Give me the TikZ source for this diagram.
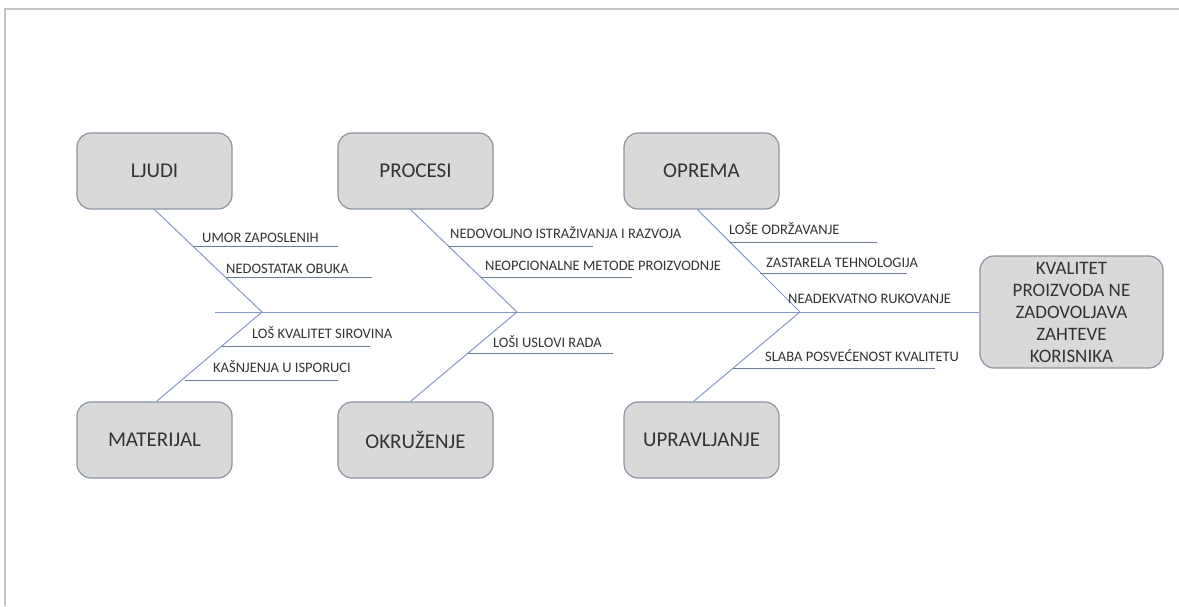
\documentclass[tikz,border=0pt]{standalone}
\usepackage{fontspec}
\setmainfont{Carlito}
\usetikzlibrary{calc}
\definecolor{boxfill}{HTML}{D9D9DA}
\definecolor{boxline}{HTML}{8A94A3}
\definecolor{bone}{HTML}{8499C4}
\definecolor{rule}{HTML}{6E7C96}
\definecolor{ink}{HTML}{333333}
\definecolor{pageframe}{HTML}{C4C4C4}
\begin{document}
\begin{tikzpicture}[x=1pt,y=-1pt,
  cat/.style={draw=boxline, line width=1.2pt, fill=boxfill, rounded corners=14pt,
    minimum width=155pt, minimum height=76pt, inner sep=0pt,
    font=\fontsize{21}{24}\selectfont, text=ink},
  cause/.style={anchor=base west, inner sep=0pt, font=\fontsize{14.5}{16}\selectfont, text=ink},
  bonestyle/.style={draw=bone, line width=1pt},
  underl/.style={draw=rule, line width=1pt}]
\useasboundingbox (0,0) rectangle (1179,606);

% page frame (top and left edges)
\draw[pageframe, line width=2.5pt] (5,606) -- (5,9) -- (1179,9);

% category boxes
\node[cat] (ljudi)       at (154.5,171) {LJUDI};
\node[cat] (procesi)     at (415.5,171) {PROCESI};
\node[cat] (oprema)      at (701.5,171) {OPREMA};
\node[cat] (materijal)   at (154.5,440) {MATERIJAL};
\node[cat] (okruzenje)   at (415.5,440) {OKRUŽENJE};
\node[cat] (upravljanje) at (701.5,440) {UPRAVLJANJE};

% effect box
\node[cat, minimum width=183pt, minimum height=112pt, align=center,
  font=\fontsize{19}{22}\selectfont] (effect) at (1071.5,312)
  {KVALITET\\PROIZVODA NE\\ZADOVOLJAVA\\ZAHTEVE\\KORISNIKA};

% spine
\coordinate (tail) at (215,312);
\draw[bonestyle] (tail) -- (effect.west);

% bones
\coordinate (t1) at (262,312);
\coordinate (t2) at (517,312);
\coordinate (t3) at (800,312);
\draw[bonestyle] (ljudi.south) -- (t1) -- ([xshift=2pt]materijal.north);
\draw[bonestyle] ([xshift=-5pt]procesi.south) -- (t2) -- ([xshift=-5pt]okruzenje.north);
\draw[bonestyle] ([xshift=-4pt]oprema.south) -- (t3) -- ([xshift=-8pt]upravljanje.north);

% causes: LJUDI
\coordinate (u1a) at (193,246); \coordinate (u1b) at (338,246);
\draw[underl] (u1a) -- (u1b);
\node[cause] (c1) at (202,242.5) {UMOR ZAPOSLENIH};
\coordinate (u2a) at (225.5,277); \coordinate (u2b) at (372,277);
\draw[underl] (u2a) -- (u2b);
\node[cause] (c2) at (226,273.5) {NEDOSTATAK OBUKA};

% causes: PROCESI
\coordinate (u3a) at (448,246); \coordinate (u3b) at (593,246);
\draw[underl] (u3a) -- (u3b);
\node[cause] (c3) at (450,238) {NEDOVOLJNO ISTRAŽIVANJA I RAZVOJA};
\coordinate (u4a) at (481,277); \coordinate (u4b) at (632,277);
\draw[underl] (u4a) -- (u4b);
\node[cause] (c4) at (485,270) {NEOPCIONALNE METODE PROIZVODNJE};

% causes: OPREMA
\coordinate (u5a) at (729,242); \coordinate (u5b) at (877,242);
\draw[underl] (u5a) -- (u5b);
\node[cause] (c5) at (729,234) {LOŠE ODRŽAVANJE};
\coordinate (u6a) at (760,273); \coordinate (u6b) at (907,273);
\draw[underl] (u6a) -- (u6b);
\node[cause] (c6) at (766,267) {ZASTARELA TEHNOLOGIJA};
\node[cause] (c7) at (788,303) {NEADEKVATNO RUKOVANJE};

% causes: MATERIJAL
\coordinate (u8a) at (222,346); \coordinate (u8b) at (370,346);
\draw[underl] (u8a) -- (u8b);
\node[cause] (c8) at (252,338) {LOŠ KVALITET SIROVINA};
\coordinate (u9a) at (185,380); \coordinate (u9b) at (338,380);
\draw[underl] (u9a) -- (u9b);
\node[cause] (c9) at (213,372) {KAŠNJENJA U ISPORUCI};

% causes: OKRUŽENJE
\coordinate (u10a) at (468,353); \coordinate (u10b) at (613,353);
\draw[underl] (u10a) -- (u10b);
\node[cause] (c10) at (493,347) {LOŠI USLOVI RADA};

% causes: UPRAVLJANJE
\coordinate (u11a) at (733,368); \coordinate (u11b) at (935,368);
\draw[underl] (u11a) -- (u11b);
\node[cause] (c11) at (765,361) {SLABA POSVEĆENOST KVALITETU};
\end{tikzpicture}
\end{document}
